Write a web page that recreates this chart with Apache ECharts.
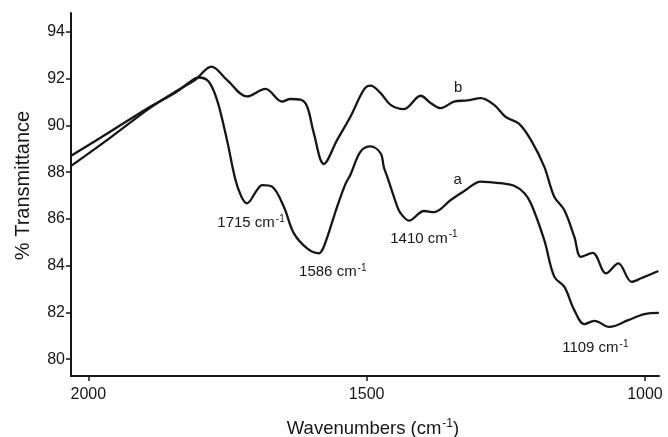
<!DOCTYPE html>
<html>
<head>
<meta charset="utf-8">
<style>
  html, body { margin: 0; padding: 0; background: #fff; }
  #chart { width: 668px; height: 437px; }
</style>
<script src="https://cdn.jsdelivr.net/npm/echarts@6/dist/echarts.min.js"></script>
</head>
<body>
<div id="chart"></div>
<script>
// FTIR spectra, wavenumber (cm^-1) vs % transmittance
const wavenumbersA = [2031, 1961, 1889, 1844, 1817, 1802, 1784, 1769, 1751, 1736, 1725, 1715, 1697, 1688, 1670, 1649, 1631, 1607, 1586, 1577, 1553, 1538, 1529, 1511, 1493, 1475, 1469, 1463, 1445, 1439, 1424, 1397, 1379, 1349, 1322, 1295, 1271, 1259, 1235, 1217, 1205, 1181, 1163, 1145, 1127, 1109, 1091, 1064, 1030, 1001, 975];
const transmittanceA = [88.70, 89.73, 90.80, 91.40, 91.87, 92.05, 91.88, 91.10, 89.38, 87.70, 86.95, 86.67, 87.24, 87.45, 87.38, 86.53, 85.39, 84.74, 84.53, 84.81, 86.53, 87.50, 87.90, 88.88, 89.10, 88.81, 88.20, 87.80, 86.53, 86.24, 85.93, 86.34, 86.29, 86.81, 87.24, 87.60, 87.55, 87.53, 87.42, 87.11, 86.67, 85.10, 83.53, 83.10, 82.10, 81.50, 81.64, 81.38, 81.67, 81.93, 81.98];

const wavenumbersB = [2031, 1961, 1889, 1844, 1808, 1779, 1751, 1715, 1682, 1652, 1637, 1619, 1607, 1595, 1577, 1553, 1529, 1505, 1493, 1475, 1457, 1433, 1403, 1385, 1367, 1343, 1319, 1295, 1271, 1250, 1226, 1205, 1181, 1163, 1145, 1127, 1115, 1094, 1070, 1048, 1024, 1007, 976];
const transmittanceB = [88.27, 89.47, 90.75, 91.44, 91.95, 92.52, 91.95, 91.24, 91.56, 91.02, 91.13, 91.10, 90.81, 89.67, 88.35, 89.38, 90.38, 91.53, 91.70, 91.38, 90.88, 90.70, 91.27, 90.96, 90.74, 91.02, 91.07, 91.17, 90.88, 90.36, 90.07, 89.38, 88.24, 86.95, 86.38, 85.24, 84.38, 84.55, 83.67, 84.10, 83.31, 83.46, 83.77];

// absorption bands marked on spectrum a
const bandPositions = [1715, 1586, 1410, 1109];
const xTicks = [1000, 1500, 2000];
const yTicks = [80, 82, 84, 86, 88, 90, 92, 94];

const FONT = 'Liberation Sans, Arial, sans-serif';
const INK = '#161616';

const zip = (xs, ys) => xs.map((x, i) => [x, ys[i]]);
const dataA = zip(wavenumbersA, transmittanceA);
const dataB = zip(wavenumbersB, transmittanceB);

// local minimum of spectrum a near a band position
function dipNear(wn) {
  let best = null;
  dataA.forEach(p => {
    if (Math.abs(p[0] - wn) <= 20 && (!best || p[1] < best[1])) best = p;
  });
  return best;
}

const bandOffsets = [[4, 20], [14, 19], [15, 18], [11, 24]];

const superRich = {
  n: { fontFamily: FONT, fontSize: 15, color: INK, lineHeight: 18 },
  s: { fontFamily: FONT, fontSize: 10, color: INK, lineHeight: 10, verticalAlign: 'top', padding: [0, 0, 0, 1] }
};

// invisible anchor carrying a text label
function note(coord, offset, text, rich) {
  const label = { show: true, position: 'inside', offset: offset, formatter: text, color: INK, fontFamily: FONT, fontSize: 15 };
  if (rich) label.rich = rich;
  return { coord: coord, symbol: 'circle', symbolSize: 1, itemStyle: { color: 'rgba(0,0,0,0)' }, label: label };
}

const bandMarks = bandPositions.map((wn, i) =>
  note(dipNear(wn), bandOffsets[i], '{n|' + wn + ' cm}{s|-1}', superRich));

const chart = echarts.init(document.getElementById('chart'));
chart.setOption({
  animation: false,
  backgroundColor: '#fff',
  grid: { left: 71, right: 9, top: 13, bottom: 61, containLabel: false, outerBoundsMode: 'none' },
  xAxis: {
    type: 'value',
    inverse: true,
    min: 974.8,
    max: 2031.2,
    name: '{n|Wavenumbers (cm}{s|-1}{n|)}',
    nameLocation: 'middle',
    nameGap: 42,
    nameTextStyle: {
      padding: [0, 0, 0, 16],
      rich: {
        n: { fontFamily: FONT, fontSize: 18.5, color: INK, lineHeight: 21 },
        s: { fontFamily: FONT, fontSize: 12, color: INK, lineHeight: 12, verticalAlign: 'top', padding: [0, 0, 0, 1] }
      }
    },
    splitLine: { show: false },
    axisLine: { show: true, lineStyle: { color: INK, width: 2 } },
    axisTick: { show: true, inside: false, length: 5, lineStyle: { color: INK, width: 1.5 }, customValues: xTicks },
    axisLabel: { fontFamily: FONT, fontSize: 16, color: INK, margin: 11, customValues: xTicks, formatter: v => String(v) }
  },
  yAxis: {
    type: 'value',
    min: 79.28,
    max: 94.81,
    name: '% Transmittance',
    nameLocation: 'middle',
    nameGap: 38,
    nameRotate: 90,
    nameTextStyle: { fontFamily: FONT, fontSize: 20, color: INK, padding: [0, 0, 0, 18] },
    splitLine: { show: false },
    axisLine: { show: true, lineStyle: { color: INK, width: 2 } },
    axisTick: { show: true, inside: false, length: 5, lineStyle: { color: INK, width: 1.5 }, customValues: yTicks },
    axisLabel: { fontFamily: FONT, fontSize: 16, color: INK, margin: 6, customValues: yTicks, formatter: v => String(v) }
  },
  series: [
    {
      name: 'a',
      type: 'line',
      data: dataA,
      showSymbol: false,
      smooth: 0.35,
      lineStyle: { color: INK, width: 2.3 },
      markPoint: {
        data: bandMarks.concat([note(dataA[wavenumbersA.indexOf(1349)], [7, -20], 'a')])
      }
    },
    {
      name: 'b',
      type: 'line',
      data: dataB,
      showSymbol: false,
      smooth: 0.35,
      lineStyle: { color: INK, width: 2.3 },
      markPoint: {
        data: [note(dataB[wavenumbersB.indexOf(1343)], [4, -14], 'b')]
      }
    }
  ]
});
</script>
</body>
</html>
